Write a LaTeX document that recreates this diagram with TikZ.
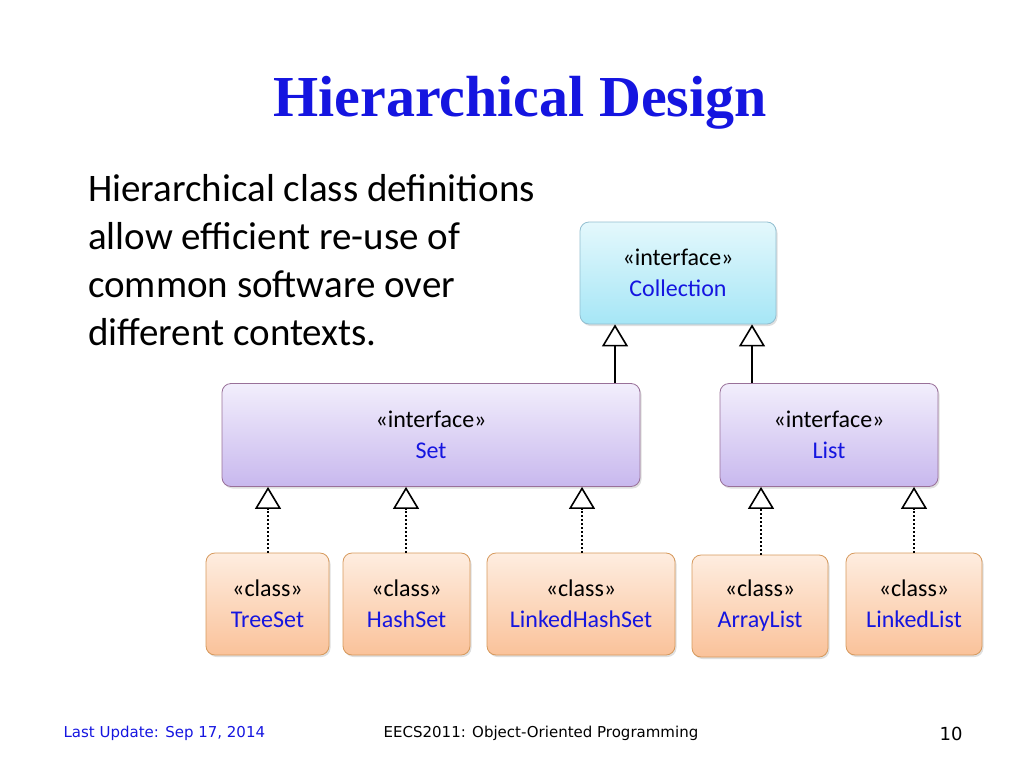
\documentclass[tikz,border=0pt]{standalone}
\usepackage{fontspec}
\setmainfont{Carlito}
\newfontfamily\titlefont{Liberation Serif}
\newfontfamily\footfont{DejaVu Sans}
\usetikzlibrary{arrows.meta,shadows}
\definecolor{tblue}{HTML}{1515E0}
\definecolor{cytop}{HTML}{E4F8FC}
\definecolor{cybot}{HTML}{A6E6F6}
\definecolor{lvtop}{HTML}{F2EEFC}
\definecolor{lvbot}{HTML}{C8B8EE}
\definecolor{ortop}{HTML}{FEEDE0}
\definecolor{orbot}{HTML}{FAC29A}
\tikzset{
 box/.style={rounded corners=9pt, line width=0.8pt, drop shadow={opacity=0.25,shadow xshift=1.5pt,shadow yshift=-2pt}, align=center, font=\fontsize{24}{31}\selectfont, inner sep=0pt},
 cyanbox/.style={box, draw=cyan!45!gray!70, top color=cytop, bottom color=cybot},
 lavbox/.style={box, draw=violet!40!gray!80, top color=lvtop, bottom color=lvbot},
 orbox/.style={box, draw=orange!60!gray!80, top color=ortop, bottom color=orbot},
 gen/.style={line width=2pt, -{Triangle[open,width=26pt,length=22pt,line width=1.6pt]}},
 real/.style={gen, dash pattern=on 2pt off 2pt}
}
\begin{document}
\begin{tikzpicture}[x=1pt,y=-1pt]
\useasboundingbox (0,0) rectangle (1024,768);
\node[font=\titlefont\bfseries\fontsize{58}{62}\selectfont, text=tblue] (title) at (520,103) {Hierarchical Design};
\node[anchor=north west, align=left, font=\fontsize{39}{48}\selectfont, inner sep=0pt] (txt) at (88,174) {Hierarchical class definitions\\allow efficient re-use of\\common software over\\different contexts.};
\node[cyanbox, minimum width=196pt, minimum height=102pt] (coll) at (678,273) {«interface»\\\textcolor{tblue}{Collection}};
\node[lavbox, minimum width=418pt, minimum height=103pt] (set) at (431,435) {«interface»\\\textcolor{tblue}{Set}};
\node[lavbox, minimum width=218pt, minimum height=103pt] (list) at (829,435) {«interface»\\\textcolor{tblue}{List}};
\node[orbox, minimum width=123pt, minimum height=102pt] (tree) at (267.5,604) {«class»\\\textcolor{tblue}{TreeSet}};
\node[orbox, minimum width=127pt, minimum height=102pt] (hash) at (406.5,604) {«class»\\\textcolor{tblue}{HashSet}};
\node[orbox, minimum width=188pt, minimum height=102pt] (lhs) at (581,604) {«class»\\\textcolor{tblue}{LinkedHashSet}};
\node[orbox, minimum width=136pt, minimum height=102pt] (al) at (760,606) {«class»\\\textcolor{tblue}{ArrayList}};
\node[orbox, minimum width=136pt, minimum height=102pt] (ll) at (914,604) {«class»\\\textcolor{tblue}{LinkedList}};
\draw[gen] (set.north -| 615,0) -- (coll.south -| 615,0);
\draw[gen] (list.north -| 752,0) -- (coll.south -| 752,0);
\draw[real] (tree.north -| 268,0) -- (set.south -| 268,0);
\draw[real] (hash.north -| 406,0) -- (set.south -| 406,0);
\draw[real] (lhs.north -| 582,0) -- (set.south -| 582,0);
\draw[real] (al.north -| 761,0) -- (list.south -| 761,0);
\draw[real] (ll.north -| 914,0) -- (list.south -| 914,0);
\node[anchor=west, text=tblue, font=\footfont\fontsize{15}{16}\selectfont] (upd) at (60,733) {Last Update: Sep 17, 2014};
\node[font=\footfont\fontsize{15}{16}\selectfont] (course) at (541,733) {EECS2011: Object-Oriented Programming};
\node[font=\footfont\fontsize{18}{20}\selectfont] (pg) at (951,734) {10};
\end{tikzpicture}
\end{document}
